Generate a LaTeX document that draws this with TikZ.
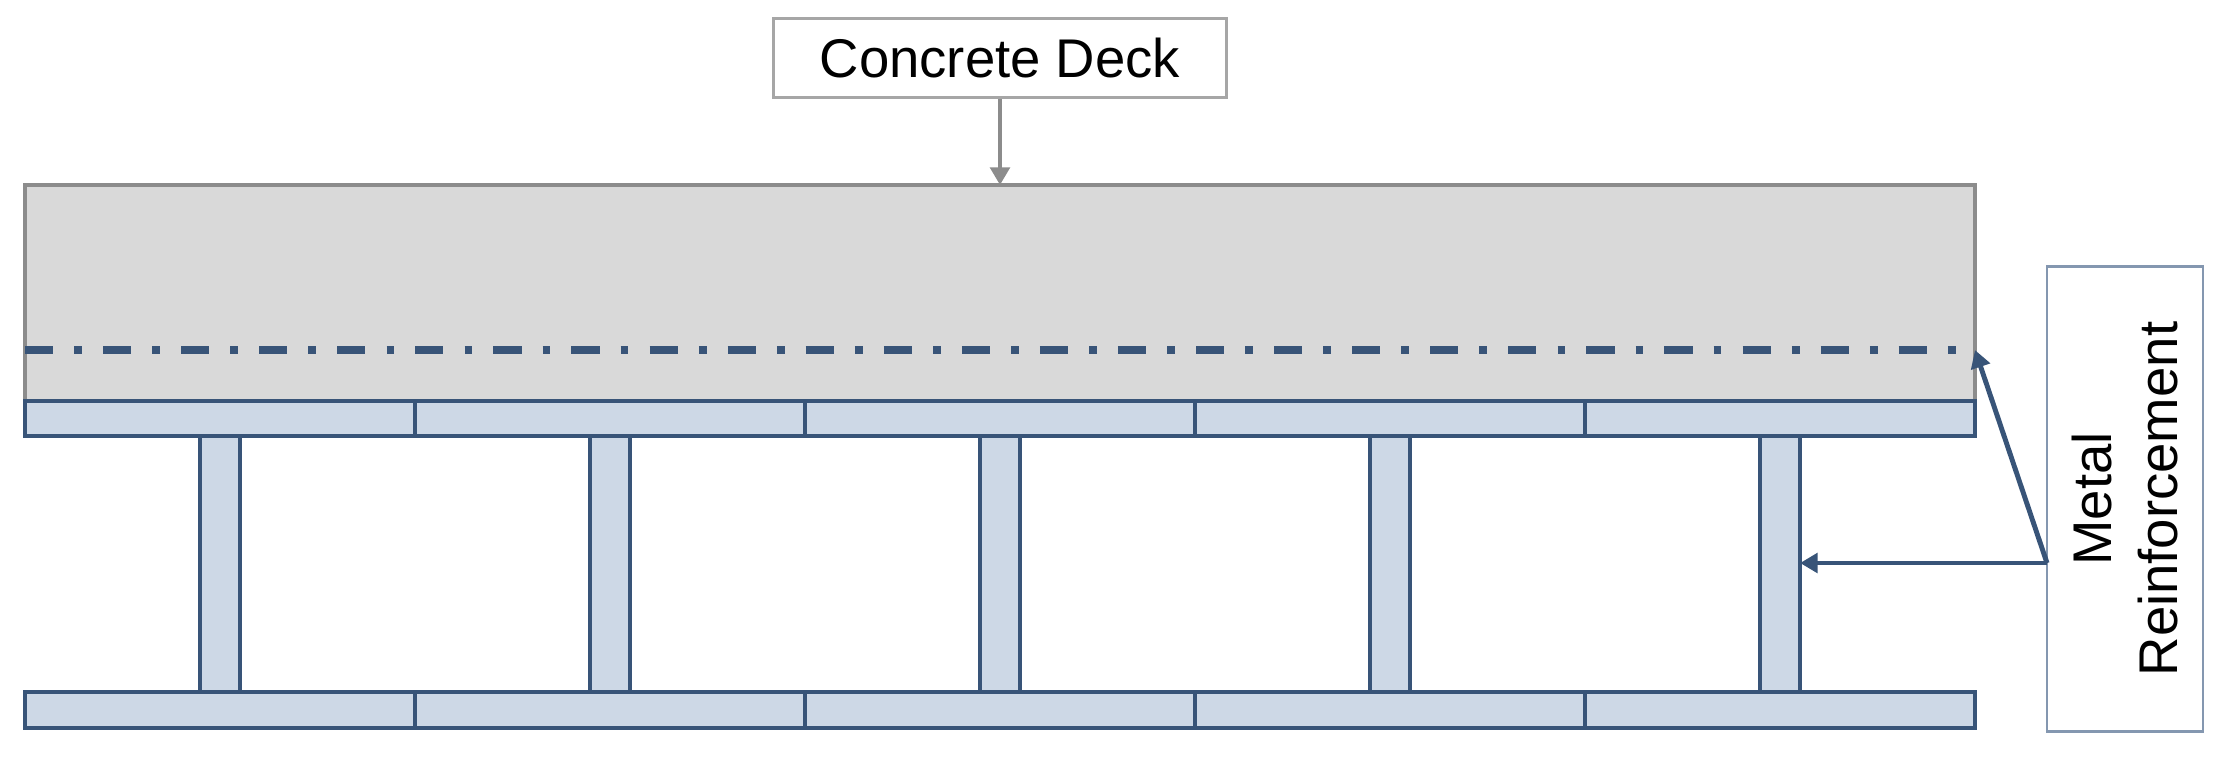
\documentclass[tikz,border=0pt]{standalone}
\usepackage{fontspec}
\setmainfont{Liberation Sans}
\usetikzlibrary{arrows.meta,positioning}
\definecolor{deckgray}{HTML}{D9D9D9}
\definecolor{deckline}{HTML}{8C8C8C}
\definecolor{steelfill}{HTML}{CDD8E6}
\definecolor{steelline}{HTML}{385478}
\definecolor{labelline}{HTML}{A6A6A6}
\definecolor{reinfline}{HTML}{8497B0}

\begin{document}
\begin{tikzpicture}[x=0.01cm,y=-0.01cm,>={Triangle[length=5pt,width=5.5pt]},
    steel/.style={fill=steelfill,draw=steelline,line width=1.2pt},
    tag/.style={draw=labelline,line width=0.8pt,fill=white,inner sep=0pt,align=center,
        font=\fontsize{15.5}{19}\selectfont}]
    \useasboundingbox (0,0) rectangle (2236,763);
    % concrete deck and rebar line
    \draw[fill=deckgray,draw=deckline,line width=1pt] (25,185) rectangle (1975,401);
    \draw[steelline,line width=2.2pt,dash pattern=on 8pt off 6pt on 2.2pt off 6pt]
        (25,350) -- (1975,350) coordinate (rebar);
    % webs and flanges
    \foreach \i in {0,...,4} {
        \draw[steel] (200+390*\i,436) rectangle ++(40,256);
        \draw[steel] (25+390*\i,401) rectangle ++(390,35);
        \draw[steel] (25+390*\i,692) rectangle ++(390,36);
    }
    \coordinate (decktop) at (1000,185);
    \coordinate (web) at (1800,563);
    \coordinate (fork) at (2047,563);
    % labels
    \node[tag,minimum width=4.53cm,minimum height=0.79cm] (deck) at (1000,58) {Concrete Deck};
    \node[tag,draw=reinfline,rotate=90,minimum width=4.64cm,minimum height=1.56cm] (reinf)
        at (2125,499) {Metal\\Reinforcement};
    \draw[->,deckline,line width=1.2pt] (deck) -- (decktop);
    \draw[->,steelline,line width=1.4pt] (fork) -- (web);
    \draw[->,steelline,line width=1.4pt] (fork) -- (rebar);
\end{tikzpicture}
\end{document}
